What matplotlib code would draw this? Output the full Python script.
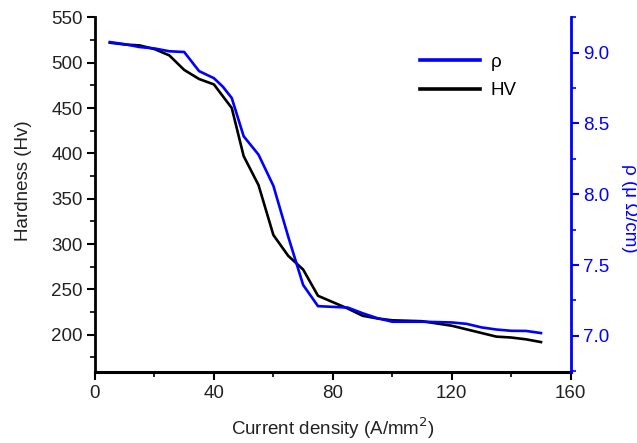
import matplotlib
matplotlib.use("Agg")
import matplotlib.pyplot as plt
from matplotlib.ticker import MultipleLocator, FormatStrFormatter

plt.rcParams['font.family'] = ['Liberation Sans', 'DejaVu Sans']

current = [5, 10, 15, 20, 25, 30, 35, 40, 43, 46, 50, 55, 60, 65, 70, 75, 80, 85,
           90, 95, 100, 110, 120, 125, 130, 135, 140, 145, 150]
hardness = [522, 520, 519, 515, 508, 492, 482, 476, 463, 450, 397, 365, 310, 287, 272,
            243, 236, 229, 221, 218, 216, 215, 210, 206, 202, 198, 197, 195, 192]
resistivity = [9.075, 9.06, 9.04, 9.03, 9.01, 9.005, 8.87, 8.82, 8.76, 8.68, 8.41, 8.28,
               8.06, 7.70, 7.36, 7.21, 7.205, 7.20, 7.16, 7.125, 7.10, 7.10, 7.095, 7.085,
               7.06, 7.045, 7.036, 7.035, 7.02]

BLUE = '#0000ff'
FS = 13.5
TXT = '#222222'

fig = plt.figure(figsize=(6.37, 4.43), dpi=100)
ax = fig.add_axes([95/637, 1-372/443, (570.7-95)/637, (372-17.3)/443])
ax2 = ax.twinx()

l_hv, = ax.plot(current, hardness, color='black', lw=1.9, label='HV')
l_rho, = ax2.plot(current, resistivity, color=BLUE, lw=1.9, label='ρ')

ax.set_xlim(0, 160)
ax.set_ylim(159, 550)
ax2.set_ylim(6.745, 9.25)

ax.xaxis.set_major_locator(MultipleLocator(40))
ax.xaxis.set_minor_locator(MultipleLocator(20))
ax.yaxis.set_major_locator(MultipleLocator(50))
ax.yaxis.set_minor_locator(MultipleLocator(25))
ax2.yaxis.set_major_locator(MultipleLocator(0.5))
ax2.yaxis.set_minor_locator(MultipleLocator(0.25))
ax2.yaxis.set_major_formatter(FormatStrFormatter('%.1f'))

for a in (ax, ax2):
    a.spines['top'].set_visible(False)
ax.spines['right'].set_visible(False)
ax.spines['left'].set_linewidth(2)
ax.spines['bottom'].set_linewidth(2.2)
ax2.spines['left'].set_visible(False)
ax2.spines['bottom'].set_visible(False)
ax2.spines['right'].set_color(BLUE)
ax2.spines['right'].set_linewidth(2)

ax.tick_params(axis='both', which='major', direction='out', length=6, width=1.5,
               labelsize=FS, labelcolor=TXT, pad=3)
ax.tick_params(axis='both', which='minor', direction='out', length=3.5, width=1.2)
ax2.tick_params(axis='y', which='major', direction='out', length=6, width=1.5,
                labelsize=FS, colors=BLUE, pad=3)
ax2.tick_params(axis='y', which='minor', direction='out', length=3.5, width=1.2, colors=BLUE)

ax.set_xlabel('Current density (A/mm$^2$)', fontsize=FS, color=TXT, labelpad=10)
ax.set_ylabel('Hardness (Hv)', fontsize=FS, color=TXT)
ax.yaxis.set_label_coords(-0.132, 0.538)
ax2.set_ylabel('ρ (μ Ω/cm)', fontsize=FS, color=BLUE, rotation=270)
ax2.yaxis.set_label_coords(1.141, 0.462)

leg = ax2.legend(handles=[l_rho, l_hv], loc='upper left', bbox_to_anchor=(0.647, 0.945),
                 frameon=False, fontsize=FS, handlelength=3.2, labelspacing=0.6,
                 handletextpad=0.6)
for h in leg.legend_handles:
    h.set_linewidth(2.6)

fig.savefig('out.png', dpi=100)
